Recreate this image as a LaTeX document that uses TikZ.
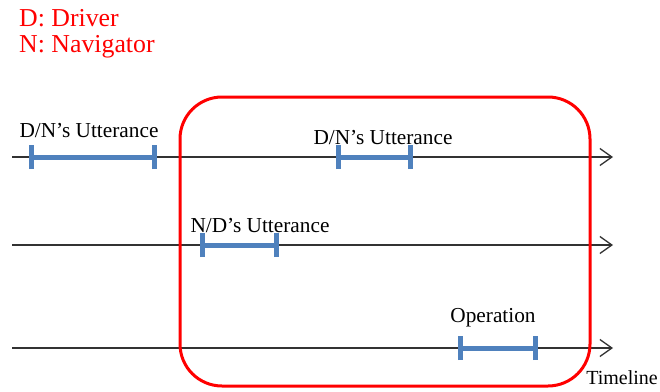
\documentclass[tikz,border=0pt]{standalone}
\usepackage{fontspec}
\setmainfont{Liberation Serif}
\usetikzlibrary{arrows.meta}
\definecolor{barblue}{RGB}{79,129,189}
\definecolor{axisgray}{RGB}{50,50,50}
\begin{document}
\begin{tikzpicture}[x=1pt,y=-1pt,
  timeline/.style={draw=axisgray,line width=1.3pt,-{Straight Barb[length=12pt,width=17pt,line width=1.3pt]}},
  interval/.style={draw=barblue,line width=5pt},
  tick/.style={draw=barblue,line width=5pt},
  lbl/.style={font=\fontsize{21.3}{24}\selectfont,inner sep=0pt,text=black},
  legend/.style={font=\fontsize{25.8}{28}\selectfont,inner sep=0pt,text=red,anchor=west},
  frame/.style={draw=red,line width=3pt,rounded corners=42pt}]
\useasboundingbox (0,0) rectangle (660,391);
% legend
\node[legend] (ld) at (19,18) {D: Driver};
\node[legend] (ln) at (19,47) {N: Navigator};
% timelines
\coordinate (s1) at (12,157); \coordinate (e1) at (613,157);
\coordinate (s2) at (12,245); \coordinate (e2) at (613,245);
\coordinate (s3) at (12,348); \coordinate (e3) at (613,348);
\draw[timeline] (s1) -- (e1);
\draw[timeline] (s2) -- (e2);
\draw[timeline] (s3) -- (e3);
% frame
\coordinate (f1) at (180,97); \coordinate (f2) at (590,386);
\draw[frame] (f1) rectangle (f2);
% intervals
\coordinate (a1) at (31,157); \coordinate (a2) at (154,157);
\coordinate (b1) at (338,157); \coordinate (b2) at (410,157);
\coordinate (c1) at (202,245); \coordinate (c2) at (276,245);
\coordinate (d1) at (460,348); \coordinate (d2) at (535,348);
\foreach \p/\q in {a1/a2,b1/b2,c1/c2,d1/d2}{
  \draw[interval] (\p) -- (\q);
  \draw[tick] ([yshift=-12pt]\p) -- ([yshift=12pt]\p);
  \draw[tick] ([yshift=-12pt]\q) -- ([yshift=12pt]\q);
}
% labels
\node[lbl] (la) at (89,131) {D/N’s Utterance};
\node[lbl] (lb) at (383,138) {D/N’s Utterance};
\node[lbl] (lc) at (260,226) {N/D’s Utterance};
\node[lbl] (ld2) at (493,318) {Operation};
\node[lbl,font=\fontsize{20}{22}\selectfont,anchor=east] (lt) at (658,378) {Timeline};
\end{tikzpicture}
\end{document}
